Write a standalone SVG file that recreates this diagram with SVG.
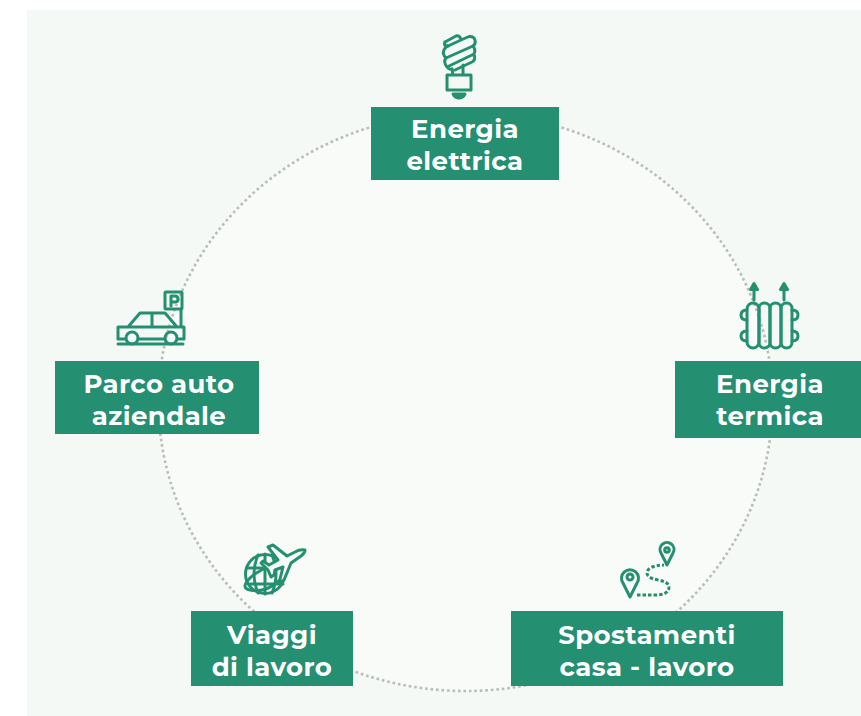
<svg xmlns="http://www.w3.org/2000/svg" width="861" height="716" viewBox="0 0 861 716">
<style>
.box{fill:#249071}
.t{font-family:Montserrat,"Open Sans","Noto Sans",sans-serif;font-weight:700;font-size:26px;letter-spacing:.4px;fill:#fff;text-anchor:middle}
.i{fill:none;stroke:#249071;stroke-width:3;stroke-linecap:round;stroke-linejoin:round}
.d{stroke-dasharray:3.5 2;stroke-linecap:butt}
</style>
<rect width="861" height="716" fill="#fff"/>
<rect x="27" y="10" width="834" height="706" fill="#f4f9f5"/>
<g id="connectors"><ellipse cx="465.5" cy="402" rx="307" ry="289" fill="#f9fbf8" stroke="#b9bcb8" stroke-width="2.6" stroke-dasharray="2.6 2.9"/></g>
<g id="energia-elettrica"><rect class="box" x="371" y="107" width="188" height="73"/><text class="t" x="465" y="138">Energia</text><text class="t" x="465" y="170">elettrica</text>
<g class="i"><path d="M445 42L456 36Q460 35 461 40L469 36.5Q474 36 475 40Q476 44 473 46L446 58Q442 54 444 50Q445 47 448 46L461 40"/><path d="M445 42Q443 46 448 46M473 46Q476 50 474 54L447 67Q443 62 446 58M474 54Q476 60 472 62L455 70M447 67Q449 70 452 69"/><path d="M452 69L453 75M463 65V75M447 75H471V90H447Z"/><path d="M453 94H465Q463 98 459 98Q455 98 453 94Z" fill="#249071"/></g></g>
<g id="energia-termica"><rect class="box" x="675" y="361" width="186" height="77"/><text class="t" x="770" y="393">Energia</text><text class="t" x="770" y="425">termica</text>
<g class="i"><rect x="747" y="303" width="12" height="45" rx="6"/><rect x="759" y="303" width="11" height="45" rx="5.5"/><rect x="770" y="303" width="11" height="45" rx="5.5"/><rect x="781" y="303" width="11" height="45" rx="5.5"/><path d="M747 310Q741 310 741 315Q741 320 747 320M747 331Q741 331 741 336Q741 341 747 341M792 310Q798 310 798 315Q798 320 792 320M792 331Q798 331 798 336Q798 341 792 341M754 300V286M784 300V286"/><path d="M750.500 289.500L754 283.500L757.500 289.500ZM780.500 289.500L784 283.500L787.500 289.500Z" fill="#249071"/></g></g>
<g id="spostamenti"><rect class="box" x="511" y="611" width="272" height="75"/><text class="t" x="647" y="644">Spostamenti</text><text class="t" x="647" y="676">casa - lavoro</text>
<g class="i"><path d="M630 597L623 583A8.500 8.500 0 1 1 637 583Z"/><circle cx="630" cy="577" r="3"/><path d="M667 565L661 553A7 7 0 1 1 673 553Z"/><circle cx="667" cy="550" r="2.300"/><path class="d" d="M637 595H655Q669 595 669 587Q669 582 658 580Q647 578 647 573Q647 566 664 565"/></g></g>
<g id="viaggi"><rect class="box" x="191" y="611" width="162" height="75"/><text class="t" x="272" y="644">Viaggi</text><text class="t" x="272" y="676">di lavoro</text>
<g class="i"><circle cx="265" cy="574" r="19.500"/><path d="M247 568H262M250 584H283M265 554V594M258 555Q250 574 258 593M272 555Q280 574 272 593"/><path d="M250 590Q240 588 250 578Q256 572 272 565M250 590Q270 594 287 572"/><path fill="#f7fbf8" d="M305 550Q300 549 295 552L287 556L273 545L268 547L278 560L269 565L263 561L261 563L268 570L271 577L274 575L275 570L283 567L279 583L284 580L291 563L301 556Q305 553 305 550Z"/></g></g>
<g id="parco-auto"><rect class="box" x="55" y="361" width="204" height="73"/><text class="t" x="159" y="393">Parco auto</text><text class="t" x="159" y="425">aziendale</text>
<g class="i"><rect x="165" y="292" width="17" height="17" rx="1"/><path d="M171 306V296H175Q178 296 178 299Q178 302 175 302H171M181 309V327M125 339H118V327H184V339H178M138 339H165M128 327L140 313H165L177 327M152 313V327M118 344H183"/><circle cx="132" cy="338" r="6"/><circle cx="171" cy="338" r="6"/></g></g>
</svg>
